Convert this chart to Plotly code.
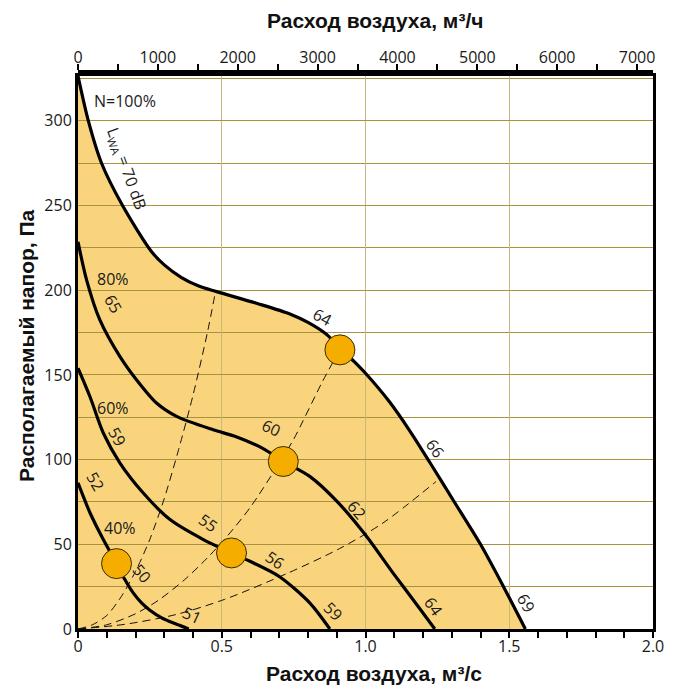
import plotly.graph_objects as go

# ---------------- data ----------------
# Fan curves: air flow, m3/s  ->  available pressure, Pa
Q_100 = [0, 0.036, 0.082, 0.155, 0.256, 0.30, 0.36, 0.42, 0.482, 0.621, 0.737, 0.80,
         0.864, 0.911, 0.96, 1.0, 1.084, 1.154, 1.225, 1.309, 1.40, 1.48, 1.556]
P_100 = [326.5, 300, 275, 250, 222.7, 215, 207.5, 202.5, 199.2, 192.3, 186, 181,
         174, 166, 158, 151, 134, 117, 98, 75, 50, 25, 0]

Q_80 = [0, 0.030, 0.076, 0.146, 0.204, 0.273, 0.343, 0.470, 0.55, 0.644, 0.714,
        0.806, 0.90, 1.0, 1.096, 1.189, 1.241]
P_80 = [228.6, 206, 182.5, 160.8, 147, 133.4, 125.5, 117.6, 113.5, 106.5, 99,
        90.1, 75.5, 55.5, 33, 12, 0]

Q_60 = [0, 0.042, 0.088, 0.146, 0.227, 0.320, 0.436, 0.534, 0.598, 0.700, 0.806, 0.876]
P_60 = [154, 137, 115.7, 98, 80.3, 64.6, 52.8, 44.9, 40, 31, 15.4, 0]

Q_40 = [0, 0.042, 0.088, 0.134, 0.163, 0.192, 0.221, 0.250, 0.291, 0.337, 0.385]
P_40 = [86.3, 68.5, 52.8, 38.6, 29.2, 21.3, 15.4, 11.1, 6.6, 3.2, 0]

# System (duct) curves, dashed
SYS1_Q = [0, 0.05, 0.10, 0.15, 0.20, 0.25, 0.30, 0.35, 0.40, 0.45, 0.478]
SYS1_P = [0, 2.5, 8, 19, 34, 53, 77, 106, 138, 175, 199]

SYS2_Q = [0, 0.10, 0.20, 0.28, 0.37, 0.45, 0.52, 0.60, 0.70, 0.75, 0.85, 0.911]
SYS2_P = [0, 2.5, 9, 17, 29, 42, 55, 72, 98, 112, 146, 165]

SYS3_Q = [0, 0.16, 0.34, 0.51, 0.73, 0.91, 1.06, 1.245]
SYS3_P = [0, 2.7, 8.5, 17.5, 33, 47.5, 62.5, 87]

# Operating points
POINT_Q = [0.134, 0.534, 0.714, 0.911]
POINT_P = [38.6, 44.9, 98.9, 164.8]

# Axes
X_RANGE = [0, 2.0]
Y_RANGE = [0, 326.5]
X_TICKS = [0, 0.5, 1.0, 1.5, 2.0]
X_TICK_TEXT = ["0", "0.5", "1.0", "1.5", "2.0"]
X_MINOR_TICKS = [0.1, 0.2, 0.3, 0.4, 0.6, 0.7, 0.8, 0.9, 1.1, 1.2, 1.3, 1.4,
                 1.6, 1.7, 1.8, 1.9]
Y_TICKS = [0, 50, 100, 150, 200, 250, 300]
TOP_TICKS = [0, 1000, 2000, 3000, 4000, 5000, 6000, 7000]
M3H_PER_M3S = 3600

# Curve labels: text, flow, pressure, angle
LABELS = [
    ("N=100%", 0.162, 311.6, 0),
    ("L<sub>WA</sub> = 70 dB", 0.169, 272, 70),
    ("64", 0.850, 184, 28),
    ("66", 1.241, 106.8, 55),
    ("69", 1.559, 15.4, 60),
    ("80%", 0.123, 206.5, 0),
    ("65", 0.123, 191.9, 60),
    ("60", 0.673, 118.6, 25),
    ("62", 0.971, 70.5, 50),
    ("64", 1.235, 13.4, 55),
    ("60%", 0.123, 130.4, 0),
    ("59", 0.134, 113.7, 60),
    ("55", 0.453, 62.6, 35),
    ("56", 0.685, 41, 35),
    ("59", 0.887, 10.5, 45),
    ("52", 0.059, 87.1, 60),
    ("40%", 0.146, 59.7, 0),
    ("50", 0.221, 33.1, 50),
    ("51", 0.395, 8.5, 25),
]

TITLE_TOP = "Расход воздуха, м³/ч"
TITLE_BOTTOM = "Расход воздуха, м³/с"
TITLE_Y = "Располагаемый напор, Па"

# ---------------- styling / layout ----------------
W, H = 681, 688
ML, MR, MT, MB = 78, 28, 71, 59
PW, PH = W - ML - MR, H - MT - MB
Y_DOMAIN_TOP = 1 - 5 / PH

FILL = "#F9D47C"
GRID_H = "#A8923E"
GRID_V = "#C9B877"
POINT_COLOR = "#F5AE00"
TICK_FONT = dict(family="Open Sans", size=16, color="#1a1a1a")
LABEL_FONT = dict(family="Open Sans", size=16, color="#1a1a1a")
TITLE_FONT = dict(family="Liberation Sans, Arial", size=21, color="#111111",
                  weight="bold")


def px_x(px):
    return (px - ML) / PW


def px_y(py):
    return (H - MB - py) / PH


fig = go.Figure()

# filled working area under the 100% curve (drawn below grid lines)
path = "M 0,0 " + " ".join(f"L {q},{p}" for q, p in zip(Q_100, P_100)) + " Z"
fig.add_shape(type="path", path=path, xref="x", yref="y", layer="below",
              fillcolor=FILL, line=dict(width=0))

# dashed system curves
for q, p in [(SYS1_Q, SYS1_P), (SYS2_Q, SYS2_P), (SYS3_Q, SYS3_P)]:
    fig.add_trace(go.Scatter(x=q, y=p, mode="lines",
                             line=dict(color="#111", width=1, dash="8px,5px",
                                       shape="spline", smoothing=0.8),
                             hoverinfo="skip", showlegend=False))

# fan curves
for q, p in [(Q_100, P_100), (Q_80, P_80), (Q_60, P_60), (Q_40, P_40)]:
    fig.add_trace(go.Scatter(x=q, y=p, mode="lines",
                             line=dict(color="black", width=3.2, shape="spline",
                                       smoothing=0.8),
                             hoverinfo="skip", showlegend=False))

# operating points
fig.add_trace(go.Scatter(x=POINT_Q, y=POINT_P, mode="markers",
                         marker=dict(size=30, color=POINT_COLOR,
                                     line=dict(color="#3a2a00", width=1)),
                         hoverinfo="skip", showlegend=False))

# invisible trace to carry the top (m3/h) axis
fig.add_trace(go.Scatter(x=[q * M3H_PER_M3S for q in Q_100], y=P_100, xaxis="x2",
                         mode="lines", opacity=0, line=dict(width=1),
                         hoverinfo="skip", showlegend=False))

for text, q, p, ang in LABELS:
    fig.add_annotation(x=q, y=p, xref="x", yref="y", text=text, showarrow=False,
                       textangle=ang, font=LABEL_FONT,
                       xanchor="center", yanchor="middle")

# axis titles
fig.add_annotation(x=px_x(375), y=px_y(20), xref="paper", yref="paper",
                   text=TITLE_TOP, showarrow=False, font=TITLE_FONT,
                   xanchor="center", yanchor="middle")
fig.add_annotation(x=px_x(374), y=px_y(673), xref="paper", yref="paper",
                   text=TITLE_BOTTOM, showarrow=False, font=TITLE_FONT,
                   xanchor="center", yanchor="middle")
fig.add_annotation(x=px_x(26), y=px_y(346), xref="paper", yref="paper",
                   text=TITLE_Y, showarrow=False, textangle=-90, font=TITLE_FONT,
                   xanchor="center", yanchor="middle")

fig.update_layout(
    width=W, height=H,
    margin=dict(l=ML, r=MR, t=MT, b=MB, pad=0),
    paper_bgcolor="white", plot_bgcolor="white",
    showlegend=False,
    xaxis=dict(range=X_RANGE, tickmode="array", tickvals=X_TICKS, ticktext=X_TICK_TEXT,
               ticks="outside", ticklen=6, tickwidth=1.5, tickcolor="black",
               ticklabelstandoff=-5,
               tickfont=TICK_FONT, showline=True, linewidth=3, linecolor="black",
               mirror=True, showgrid=True, gridcolor=GRID_V, gridwidth=1.2,
               zeroline=False, anchor="y",
               minor=dict(tickmode="array", tickvals=X_MINOR_TICKS, ticks="outside",
                          ticklen=6, tickwidth=1.5, tickcolor="black", showgrid=False)),
    xaxis2=dict(range=[X_RANGE[0] * M3H_PER_M3S, X_RANGE[1] * M3H_PER_M3S],
                overlaying="x", side="top", anchor="free", position=1,
                tickmode="array", tickvals=TOP_TICKS,
                ticks="outside", ticklen=6, tickwidth=2, tickcolor="black",
                ticklabelstandoff=-5,
                tickfont=TICK_FONT, showline=True, linewidth=3, linecolor="black",
                showgrid=False, zeroline=False,
                minor=dict(dtick=500, tick0=0, ticks="outside", ticklen=6,
                           tickwidth=2, tickcolor="black", showgrid=False)),
    yaxis=dict(range=Y_RANGE, domain=[0, Y_DOMAIN_TOP], tickmode="array",
               tickvals=Y_TICKS, ticks="", tickfont=TICK_FONT,
               showline=True, linewidth=3, linecolor="black", mirror=True,
               showgrid=True, gridcolor=GRID_H, gridwidth=1.2, zeroline=False,
               minor=dict(dtick=25, tick0=0, showgrid=True, gridcolor=GRID_H,
                          gridwidth=1.2, ticks="")),
)

fig.write_html("out.html")
